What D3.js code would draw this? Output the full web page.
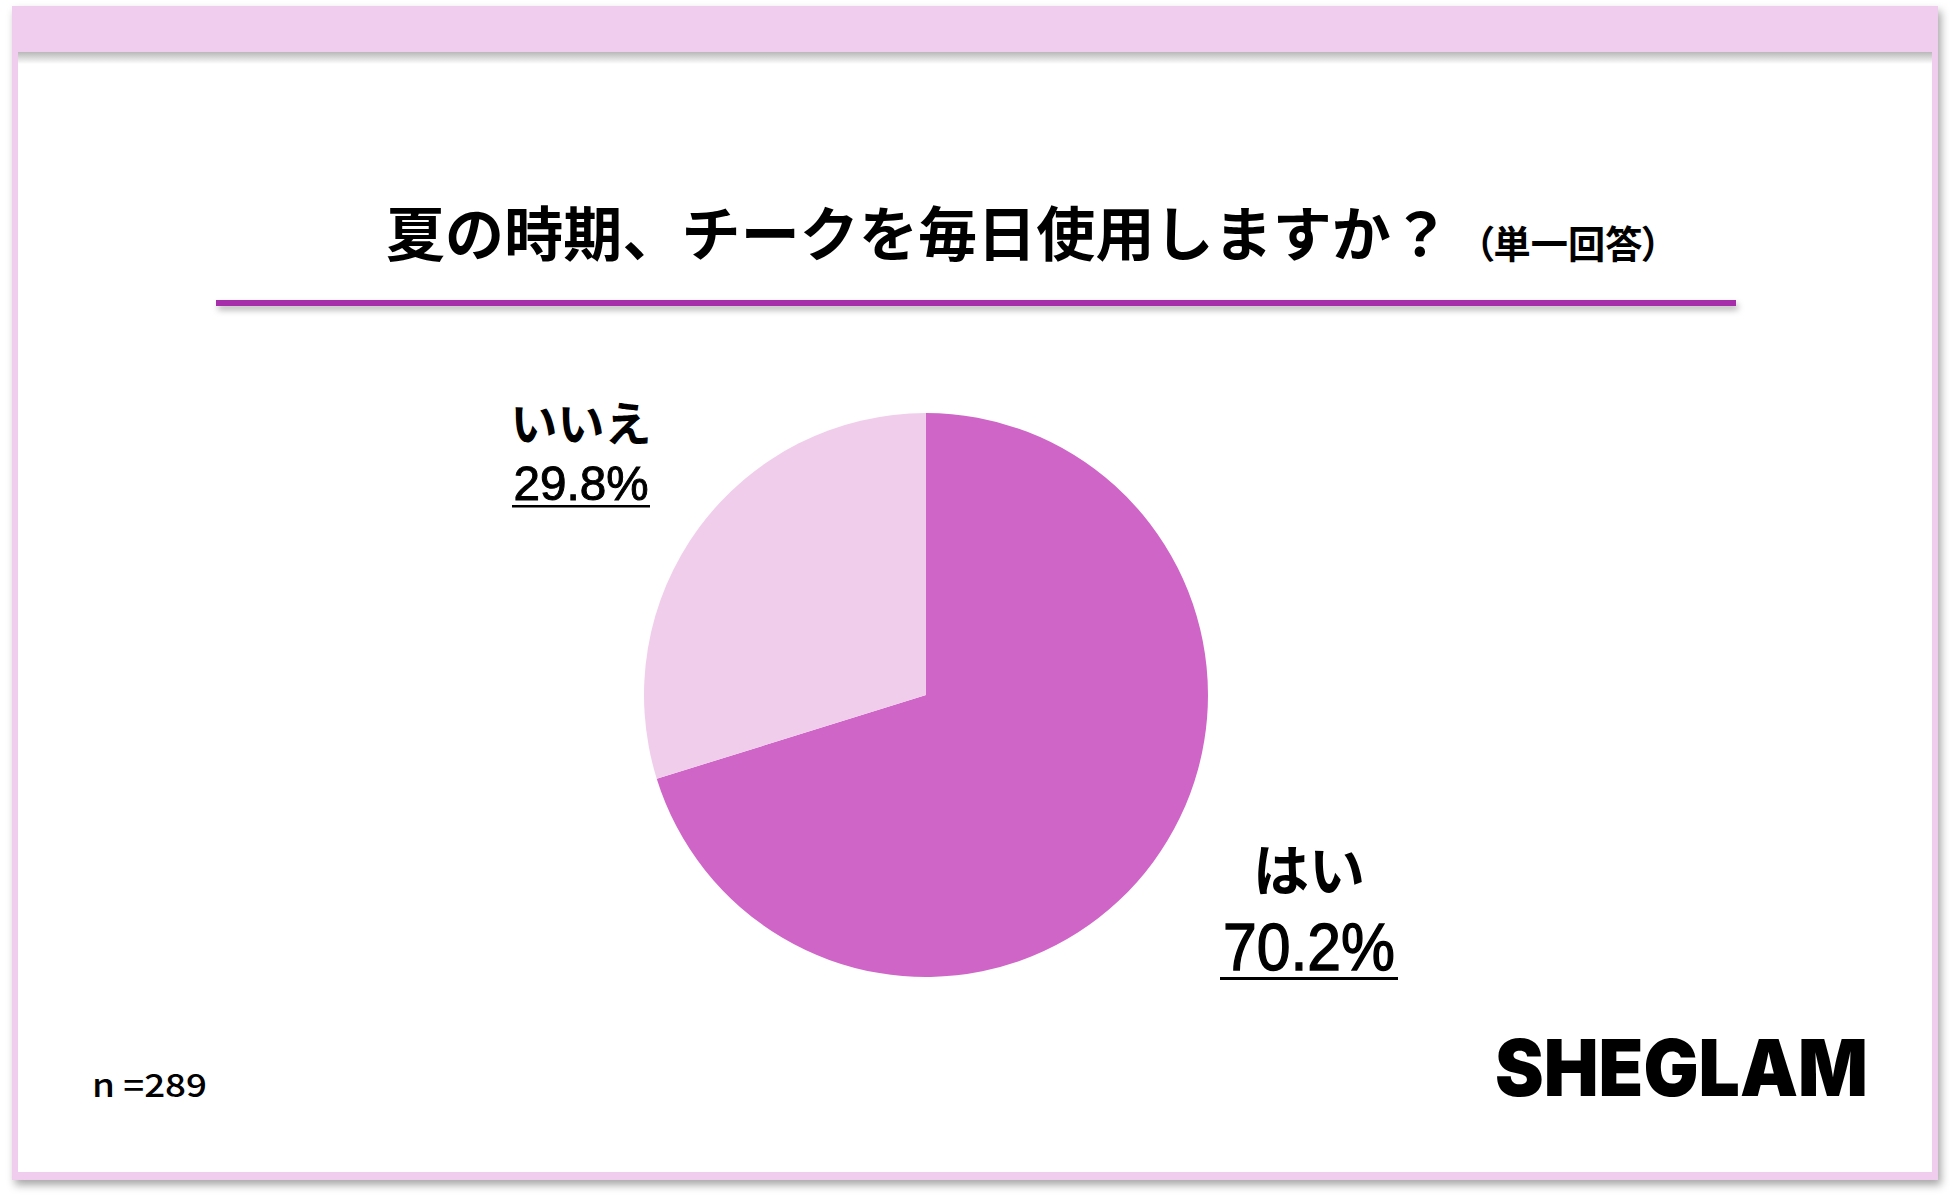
<!DOCTYPE html>
<html>
<head>
<meta charset="utf-8">
<script src="https://cdn.jsdelivr.net/npm/d3@7/dist/d3.min.js"></script>
<style>
  html, body { margin: 0; padding: 0; background: #ffffff; }
  svg { display: block; }
  text { font-family: "Noto Sans CJK JP", "Noto Sans", sans-serif; fill: #000; }
</style>
</head>
<body>
<svg id="chart" width="1950" height="1197"></svg>
<script>
// ---- data ----
const categories = ["はい", "いいえ"];
const values = [70.2, 29.8];
const valueLabels = ["70.2%", "29.8%"];
const colors = ["#D065C8", "#F1CDEC"];
const titleText = "夏の時期、チークを毎日使用しますか？";
const titleSuffix = "（単一回答）";
const sampleNote = "n =289";
const brand = "SHEGLAM";

const svg = d3.select("#chart");
const defs = svg.append("defs");

// shadows
const f1 = defs.append("filter").attr("id", "shadow").attr("x", "-5%").attr("y", "-5%").attr("width", "110%").attr("height", "115%");
f1.append("feDropShadow").attr("dx", 3).attr("dy", 5).attr("stdDeviation", 4).attr("flood-color", "#000").attr("flood-opacity", 0.35);
const f2 = defs.append("filter").attr("id", "lineShadow").attr("x", "-2%").attr("y", "-200%").attr("width", "104%").attr("height", "600%");
f2.append("feDropShadow").attr("dx", 2).attr("dy", 4).attr("stdDeviation", 3).attr("flood-color", "#000").attr("flood-opacity", 0.3);

const pink = "#F0CCEE";

// frame
svg.append("rect").attr("x", 12).attr("y", 6).attr("width", 1926).attr("height", 1174)
  .attr("fill", pink).attr("filter", "url(#shadow)");
svg.append("rect").attr("x", 18).attr("y", 52).attr("width", 1914).attr("height", 1120).attr("fill", "#fff");
const g1 = defs.append("linearGradient").attr("id", "bandShade").attr("x1", 0).attr("y1", 0).attr("x2", 0).attr("y2", 1);
g1.append("stop").attr("offset", 0).attr("stop-color", "#000").attr("stop-opacity", 0.28);
g1.append("stop").attr("offset", 1).attr("stop-color", "#000").attr("stop-opacity", 0);
svg.append("rect").attr("x", 18).attr("y", 52).attr("width", 1914).attr("height", 12).attr("fill", "url(#bandShade)");
svg.append("rect").attr("x", 12).attr("y", 6).attr("width", 1926).attr("height", 46).attr("fill", pink);

// title
svg.append("text").attr("x", 386).attr("y", 256)
  .attr("font-size", 59).attr("font-weight", 700)
  .attr("textLength", 1064).attr("lengthAdjust", "spacing")
  .text(titleText);
svg.append("text").attr("x", 1475).attr("y", 258)
  .attr("font-size", 38).attr("font-weight", 700)
  .style("font-feature-settings", "'palt'")
  .attr("textLength", 186).attr("lengthAdjust", "spacingAndGlyphs")
  .text(titleSuffix);
svg.append("rect").attr("x", 216).attr("y", 300).attr("width", 1520).attr("height", 6)
  .attr("fill", "#A72FAA").attr("filter", "url(#lineShadow)");

// pie
const cx = 926, cy = 695, R = 282;
const pie = d3.pie().sort(null).value(d => d)(values);
const arc = d3.arc().innerRadius(0).outerRadius(R);
svg.append("g").attr("transform", `translate(${cx},${cy})`)
  .selectAll("path").data(pie).join("path")
  .attr("d", arc).attr("fill", (d, i) => colors[i]);

// labels
const labelPos = [
  { cx: 1309, nameY: 891, valY: 970, nameSize: 56, valSize: 66, valW: 172, ulY: 977, ulW: 178, ulH: 3 },
  { cx: 581, nameY: 441, valY: 500, nameSize: 47, valSize: 49, valW: 135, ulY: 505, ulW: 138, ulH: 2.5 }
];
categories.forEach((c, i) => {
  const p = labelPos[i];
  svg.append("text").attr("x", p.cx).attr("y", p.nameY)
    .attr("text-anchor", "middle")
    .attr("font-size", p.nameSize).attr("font-weight", 700)
    .text(c);
  svg.append("text").attr("x", p.cx - p.valW / 2).attr("y", p.valY)
    .style("font-family", "'Liberation Sans', Arial, sans-serif")
    .attr("font-size", p.valSize).attr("font-weight", 400)
    .attr("stroke", "#000").attr("stroke-width", i === 0 ? 1.4 : 1)
    .attr("textLength", p.valW).attr("lengthAdjust", "spacingAndGlyphs")
    .text(valueLabels[i]);
  svg.append("rect").attr("x", p.cx - p.ulW / 2).attr("y", p.ulY).attr("width", p.ulW).attr("height", p.ulH).attr("fill", "#000");
});

// footnote
svg.append("text").attr("x", 92).attr("y", 1097)
  .attr("font-size", 32).attr("font-weight", 500)
  .attr("textLength", 115).attr("lengthAdjust", "spacingAndGlyphs")
  .text(sampleNote);

// brand
svg.append("text").attr("x", 1495).attr("y", 1096)
  .style("font-family", "Inter, Lato, sans-serif")
  .attr("font-size", 78).attr("font-weight", 900)
  .attr("textLength", 373).attr("lengthAdjust", "spacingAndGlyphs")
  .text(brand);
</script>
</body>
</html>
